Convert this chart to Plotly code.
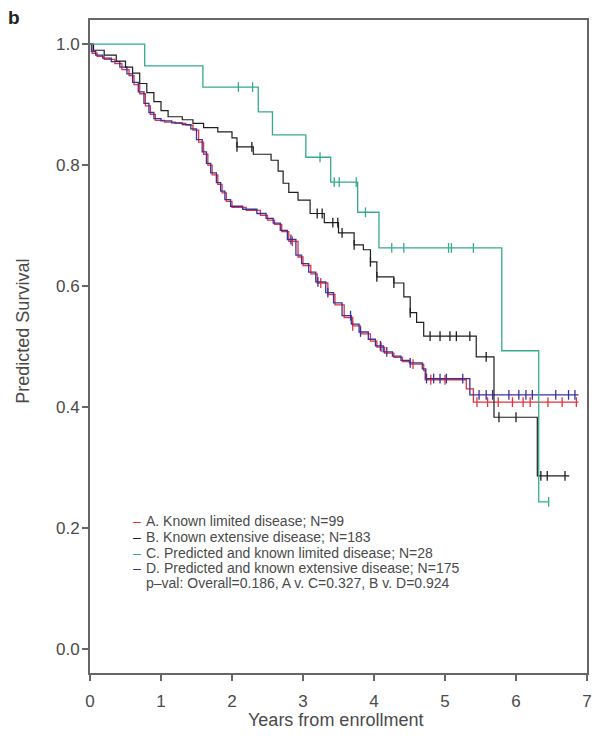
import plotly.graph_objects as go

# ---------------- data ----------------
# A. Known limited disease (red)
A_time = [0, 0.03, 0.1, 0.2, 0.35, 0.45, 0.55, 0.62, 0.7, 0.78, 0.85, 0.92, 1.05, 1.2, 1.35,
          1.45, 1.53, 1.6, 1.66, 1.72, 1.8, 1.86, 1.92, 2.0, 2.2, 2.4, 2.5, 2.6, 2.7, 2.8,
          2.93, 3.0, 3.11, 3.2, 3.35, 3.45, 3.58, 3.7, 3.81, 3.95, 4.04, 4.15, 4.28, 4.4,
          4.51, 4.7, 4.72, 5.3, 5.4, 6.88]
A_surv = [1.0, 0.985, 0.98, 0.975, 0.968, 0.958, 0.948, 0.933, 0.918, 0.898, 0.884, 0.874,
          0.871, 0.869, 0.866, 0.858, 0.838, 0.818, 0.8, 0.784, 0.768, 0.754, 0.74, 0.73,
          0.725, 0.717, 0.709, 0.702, 0.69, 0.674, 0.648, 0.634, 0.62, 0.605, 0.586, 0.569,
          0.548, 0.534, 0.521, 0.509, 0.499, 0.489, 0.482, 0.475, 0.471, 0.46, 0.445, 0.43,
          0.408, 0.408]
A_cens = [2.85, 3.25, 3.7, 4.1, 4.55, 4.8, 5.0, 5.45, 5.6, 5.75, 5.95, 6.1, 6.2, 6.45, 6.65, 6.85]

# B. Known extensive disease (black)
B_time = [0, 0.05, 0.2, 0.37, 0.5, 0.6, 0.7, 0.8, 0.9, 1.0, 1.1, 1.3, 1.45, 1.6, 1.8, 2.0,
          2.07, 2.3, 2.55, 2.65, 2.72, 2.8, 2.93, 3.1, 3.3, 3.5, 3.72, 3.85, 3.95, 4.04,
          4.28, 4.42, 4.51, 4.6, 4.7, 5.44, 5.69, 6.3, 6.75]
B_surv = [1.0, 0.99, 0.982, 0.972, 0.962, 0.952, 0.935, 0.92, 0.905, 0.89, 0.88, 0.875,
          0.869, 0.862, 0.855, 0.845, 0.83, 0.818, 0.808, 0.79, 0.77, 0.755, 0.742, 0.72,
          0.705, 0.688, 0.668, 0.66, 0.64, 0.615, 0.605, 0.582, 0.556, 0.54, 0.517, 0.483,
          0.383, 0.286, 0.286]
B_cens = [2.07, 2.28, 3.2, 3.27, 3.42, 3.49, 3.55, 3.72, 3.95, 4.04, 4.28, 4.51, 4.79, 4.93,
          5.07, 5.16, 5.35, 5.58, 5.76, 6.0, 6.35, 6.44, 6.69]

# C. Predicted and known limited disease (green)
C_time = [0, 0.77, 1.59, 2.37, 2.57, 3.04, 3.39, 3.77, 4.07, 5.8, 6.32, 6.46]
C_surv = [1.0, 0.964, 0.929, 0.888, 0.85, 0.813, 0.772, 0.722, 0.663, 0.493, 0.243, 0.243]
C_cens = [2.09, 2.29, 3.24, 3.44, 3.51, 3.75, 3.88, 4.25, 4.42, 5.05, 5.09, 5.4, 6.46]

# D. Predicted and known extensive disease (blue)
D_time = [0, 0.02, 0.08, 0.18, 0.3, 0.42, 0.52, 0.6, 0.68, 0.76, 0.83, 0.9, 1.0, 1.15, 1.3,
          1.42, 1.5, 1.58, 1.64, 1.7, 1.78, 1.84, 1.9, 1.98, 2.15, 2.35, 2.48, 2.58, 2.68,
          2.78, 2.9, 2.98, 3.08, 3.18, 3.32, 3.43, 3.55, 3.68, 3.79, 3.92, 4.02, 4.13, 4.26,
          4.38, 4.5, 4.68, 4.73, 5.35, 6.88]
D_surv = [1.0, 0.988, 0.982, 0.977, 0.971, 0.962, 0.951, 0.937, 0.921, 0.902, 0.887, 0.877,
          0.873, 0.87, 0.867, 0.86, 0.842, 0.822, 0.803, 0.787, 0.771, 0.757, 0.743, 0.732,
          0.727, 0.72, 0.712, 0.704, 0.692, 0.677, 0.651, 0.637, 0.623, 0.607, 0.589, 0.572,
          0.551, 0.537, 0.524, 0.512, 0.501, 0.491, 0.484, 0.477, 0.473, 0.463, 0.447, 0.42,
          0.42]
D_cens = [2.83, 3.21, 3.35, 3.67, 3.81, 4.09, 4.18, 4.51, 4.74, 4.84, 4.93, 5.02, 5.25, 5.48,
          5.58, 5.67, 5.9, 6.04, 6.14, 6.23, 6.56, 6.74, 6.83]

legend_lines = [
    "A. Known limited disease; N=99",
    "B. Known extensive disease; N=183",
    "C. Predicted and known limited disease; N=28",
    "D. Predicted and known extensive disease; N=175",
]
pval_text = "p\u2013val: Overall=0.186, A v. C=0.327, B v. D=0.924"
x_ticks = [0, 1, 2, 3, 4, 5, 6, 7]
y_ticks = [0.0, 0.2, 0.4, 0.6, 0.8, 1.0]

RED, BLACK, GREEN, BLUE = "#e2323f", "#1e1e1e", "#34ab8f", "#3b3296"


def step_value(times, surv, t):
    v = surv[0]
    for tt, s in zip(times, surv):
        if tt <= t:
            v = s
        else:
            break
    return v


fig = go.Figure()
series = [
    (A_time, A_surv, A_cens, RED, 1.3),
    (D_time, D_surv, D_cens, BLUE, 1.3),
    (B_time, B_surv, B_cens, BLACK, 1.2),
    (C_time, C_surv, C_cens, GREEN, 1.3),
]
for times, surv, cens, col, w in series:
    fig.add_trace(go.Scatter(x=times, y=surv, mode="lines", line=dict(color=col, width=w, shape="hv"),
                             showlegend=False, hoverinfo="skip"))
    fig.add_trace(go.Scatter(x=cens, y=[step_value(times, surv, c) for c in cens], mode="markers",
                             marker=dict(symbol="line-ns-open", size=7, color=col,
                                         line=dict(color=col, width=1.3)),
                             showlegend=False, hoverinfo="skip"))

FONT = "Liberation Sans, Arial, sans-serif"
GRAY = "#4a4a4a"

# plot area in pixels: x 90..592, y 20..673
def px_x(px):
    return (px - 90) / 502.0

def px_y(py):
    return (673 - py) / 653.0

ann = []
dash_cols = [RED, BLACK, GREEN, BLUE]
ys = [521, 537, 553, 568]
for txt, col, yy in zip(legend_lines, dash_cols, ys):
    ann.append(dict(x=px_x(131), y=px_y(yy), xref="paper", yref="paper", text="\u2013",
                    showarrow=False, xanchor="left", yanchor="middle",
                    font=dict(family=FONT, size=14, color=col)))
    ann.append(dict(x=px_x(145), y=px_y(yy), xref="paper", yref="paper", text=txt,
                    showarrow=False, xanchor="left", yanchor="middle",
                    font=dict(family=FONT, size=14, color=GRAY)))
ann.append(dict(x=px_x(145), y=px_y(583), xref="paper", yref="paper", text=pval_text,
                showarrow=False, xanchor="left", yanchor="middle",
                font=dict(family=FONT, size=14, color=GRAY)))
ann.append(dict(x=px_x(5), y=px_y(18), xref="paper", yref="paper", text="<b>b</b>",
                showarrow=False, xanchor="left", yanchor="middle",
                font=dict(family=FONT, size=19, color="#222")))
ann.append(dict(x=px_x(22), y=px_y(331), xref="paper", yref="paper", text="Predicted Survival",
                showarrow=False, xanchor="center", yanchor="middle", textangle=-90,
                font=dict(family=FONT, size=18, color=GRAY)))
ann.append(dict(x=px_x(338), y=px_y(720), xref="paper", yref="paper", text="Years from enrollment",
                showarrow=False, xanchor="center", yanchor="middle",
                font=dict(family=FONT, size=18, color=GRAY)))

fig.update_layout(
    width=597, height=736,
    margin=dict(l=90, r=5, t=20, b=63),
    paper_bgcolor="white", plot_bgcolor="white",
    annotations=ann,
    font=dict(family=FONT, color=GRAY),
)
fig.update_xaxes(range=[0, 7], tickvals=x_ticks, ticktext=[str(v) for v in x_ticks],
                 showline=True, linecolor="#666", linewidth=2, mirror=True,
                 ticks="outside", ticklen=6, tickcolor="#666", tickwidth=1.5,
                 ticklabelstandoff=6,
                 showgrid=False, zeroline=False, tickfont=dict(size=17, color=GRAY))
fig.update_yaxes(range=[-0.04, 1.04], tickvals=y_ticks, ticktext=[f"{v:.1f}" for v in y_ticks],
                 showline=True, linecolor="#666", linewidth=2, mirror=True,
                 ticks="outside", ticklen=6, tickcolor="#666", tickwidth=1.5,
                 ticklabelstandoff=-1,
                 showgrid=False, zeroline=False, tickfont=dict(size=17, color=GRAY))

fig.write_html("out.html")
